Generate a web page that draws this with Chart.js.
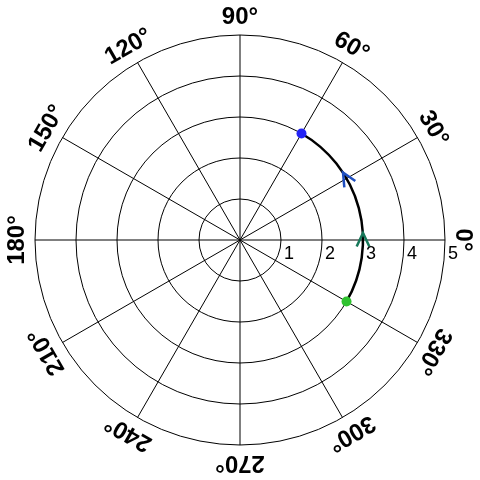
<!DOCTYPE html>
<html>
<head>
<meta charset="utf-8">
<script src="https://cdn.jsdelivr.net/npm/chart.js@4/dist/chart.umd.min.js"></script>
<style>
  body { margin: 0; background: #fff; }
  #wrap { width: 480px; height: 480px; }
</style>
</head>
<body>
<div id="wrap"><canvas id="myChart"></canvas></div>
<script>
// angular labels, counter-clockwise from 0 (degrees)
var angleValues = [0, 30, 60, 90, 120, 150, 180, 210, 240, 270, 300, 330];
var radialTicks = [1, 2, 3, 4, 5];
var radialMax = 5;

// the arc drawn at a fixed radius between two angles
var arcRadius = 3;
var arcFrom = -30;
var arcTo = 60;

// end markers
var markerAngles = [60, -30];
var markerRadii = [3, 3];
var markerColors = ["#2323f5", "#2fc22f"];

// direction arrows along the arc
var arrowAngles = [30, 0];
var arrowColors = ["#1f4fc0", "#17785a"];

// radar goes clockwise from startAngle, so list labels clockwise from 0
var labels = angleValues.map(function (a, i) {
    return angleValues[(angleValues.length - i) % angleValues.length] + "°";
});
function indexOfAngle(a) {
    a = ((a % 360) + 360) % 360;
    return ((360 - a) % 360) / 30;
}
var markerData = labels.map(function () { return null; });
var markerBg = labels.map(function () { return "rgba(0,0,0,0)"; });
markerAngles.forEach(function (a, i) {
    markerData[indexOfAngle(a)] = markerRadii[i];
    markerBg[indexOfAngle(a)] = markerColors[i];
});

var polarExtras = {
    id: "polarExtras",
    beforeDatasetsDraw: function (chart) {
        var ctx = chart.ctx;
        var s = chart.scales.r;
        var cx = s.xCenter, cy = s.yCenter;
        var rad = Math.PI / 180;
        var r = s.getDistanceFromCenterForValue(arcRadius);

        ctx.save();
        ctx.strokeStyle = "#000";
        ctx.lineWidth = 2.5;
        ctx.beginPath();
        ctx.arc(cx, cy, r, -arcTo * rad, -arcFrom * rad);
        ctx.stroke();

        arrowAngles.forEach(function (a, i) {
            var t = a * rad;
            var px = cx + r * Math.cos(t), py = cy - r * Math.sin(t);
            var dx = -Math.sin(t), dy = -Math.cos(t);
            var ax = px + 7 * dx, ay = py + 7 * dy;
            ctx.strokeStyle = arrowColors[i];
            ctx.lineWidth = 2.5;
            ctx.beginPath();
            [-25, 25].forEach(function (k, j) {
                var c = Math.cos(k * rad), sn = Math.sin(k * rad);
                var bx = dx * c - dy * sn, by = dx * sn + dy * c;
                if (j === 0) ctx.moveTo(ax - 15 * bx, ay - 15 * by);
                else { ctx.lineTo(ax, ay); ctx.lineTo(ax - 15 * bx, ay - 15 * by); }
            });
            ctx.stroke();
        });
        ctx.restore();
    },
    afterDraw: function (chart) {
        var ctx = chart.ctx;
        var s = chart.scales.r;
        var cx = s.xCenter, cy = s.yCenter;
        var rad = Math.PI / 180;
        ctx.save();
        ctx.fillStyle = "#000";

        // radial tick numbers along the 0 degree line
        ctx.font = "18px 'Liberation Sans', Arial, sans-serif";
        ctx.textAlign = "left";
        ctx.textBaseline = "middle";
        radialTicks.forEach(function (v) {
            ctx.fillText(String(v), cx + s.getDistanceFromCenterForValue(v) + 3, cy + 14);
        });

        // rotated angle labels
        ctx.font = "bold 24px 'Liberation Sans', Arial, sans-serif";
        ctx.textAlign = "center";
        var lr = s.drawingArea + 19;
        angleValues.forEach(function (a) {
            var t = a * rad;
            ctx.save();
            ctx.translate(cx + lr * Math.cos(t), cy - lr * Math.sin(t));
            ctx.rotate((90 - a) * rad);
            ctx.fillText(a + "°", 0, 1);
            ctx.restore();
        });
        ctx.restore();
    }
};

var ctx = document.getElementById("myChart").getContext("2d");
var myChart = new Chart(ctx, {
    type: "radar",
    data: {
        labels: labels,
        datasets: [
            {
                data: markerData,
                showLine: false,
                pointRadius: 5,
                pointBorderWidth: 0,
                pointBackgroundColor: markerBg,
                pointBorderColor: markerBg,
            },
        ],
    },
    options: {
        responsive: true,
        maintainAspectRatio: false,
        animation: false,
        layout: { padding: 35 },
        plugins: {
            legend: { display: false },
            tooltip: { enabled: false },
        },
        scales: {
            r: {
                min: 0,
                max: radialMax,
                startAngle: 90,
                ticks: { display: false, stepSize: 1 },
                pointLabels: { display: false },
                grid: { circular: true, color: "#000", lineWidth: 1 },
                angleLines: { color: "#000", lineWidth: 1 },
            },
        },
    },
    plugins: [polarExtras],
});
</script>
</body>
</html>
